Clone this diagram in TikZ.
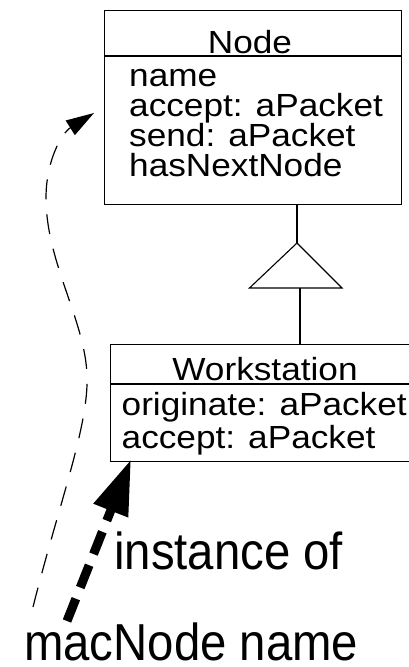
\documentclass[tikz,border=0pt]{standalone}
\usepackage{fontspec}
\setmainfont{Liberation Sans}
\newfontfamily\boxfont[FakeStretch=1.1]{Liberation Sans}
\newfontfamily\labelfont[FakeStretch=0.91]{Liberation Sans}
\usetikzlibrary{arrows.meta}

\tikzset{
  classbox/.style={draw, line width=1.1pt, minimum width=0pt, minimum height=0pt, inner sep=0pt},
  attr/.style={anchor=base west, inner sep=0pt, font=\boxfont\fontsize{32}{32}\selectfont},
  title/.style={anchor=base, inner sep=0pt, font=\boxfont\fontsize{32}{32}\selectfont},
  biglabel/.style={anchor=base west, inner sep=0pt, font=\labelfont\fontsize{52}{52}\selectfont},
  plainline/.style={line width=1.1pt},
  refline/.style={line width=1.2pt, dash pattern=on 20pt off 15pt,
    -{Triangle[length=28pt,width=17pt]}},
  instline/.style={line width=9pt, dash pattern=on 24pt off 12pt,
    -{Triangle[length=55pt,width=35pt]}}
}

\begin{document}
\begin{tikzpicture}[x=1pt, y=-1pt]
\useasboundingbox (0,0) rectangle (408,667);

% class Node
\node[classbox, anchor=north west, minimum width=297pt, minimum height=194pt] (nodebox) at (104,9.5) {};
\draw[plainline] (104,56) -- (401,56);
\node[title] (nodetitle) at (250,53) {Node};
\node[attr] (na1) at (129,86)  {name};
\node[attr] (na2) at (129,116) {accept: aPacket};
\node[attr] (na3) at (129,146) {send: aPacket};
\node[attr] (na4) at (129,176) {hasNextNode};

% class Workstation (runs off the right edge)
\node[classbox, anchor=north west, minimum width=300pt, minimum height=116.5pt] (wsbox) at (110,344) {};
\draw[plainline] (110,384) -- (410,384);
\node[title] (wstitle) at (265,380) {Workstation};
\node[attr] (wa1) at (121.5,415) {originate: aPacket};
\node[attr] (wa2) at (121.5,448) {accept: aPacket};

% generalisation triangle
\coordinate (apex)  at (297,243);
\coordinate (baseL) at (249.5,288);
\coordinate (baseR) at (342,288);
\coordinate (stem)  at (300,288);
\draw[plainline, line join=miter] (apex) -- (baseL) -- (baseR) -- cycle;
\draw[plainline] (apex |- nodebox.south) -- (apex);
\draw[plainline] (stem) -- (stem |- wsbox.north);

% labels
\node[biglabel] (inst) at (114,569) {instance of};
\node[biglabel] (mac)  at (24,660)  {macNode name};

% instance-of arrow
\coordinate (instStart) at (67,621);
\coordinate (instEnd) at (131,459.5);
\draw[instline] (instStart) -- (instEnd);

% reference from the instance name to the Node class
\coordinate (refStart) at (33,607);
\coordinate (refEnd) at (94,113);
\draw[refline] (refStart) .. controls (60,500) and (89,425) .. (87,375)
  .. controls (85,320) and (46,262) .. (46,198)
  .. controls (46,160) and (62,133) .. (refEnd);
\end{tikzpicture}
\end{document}
